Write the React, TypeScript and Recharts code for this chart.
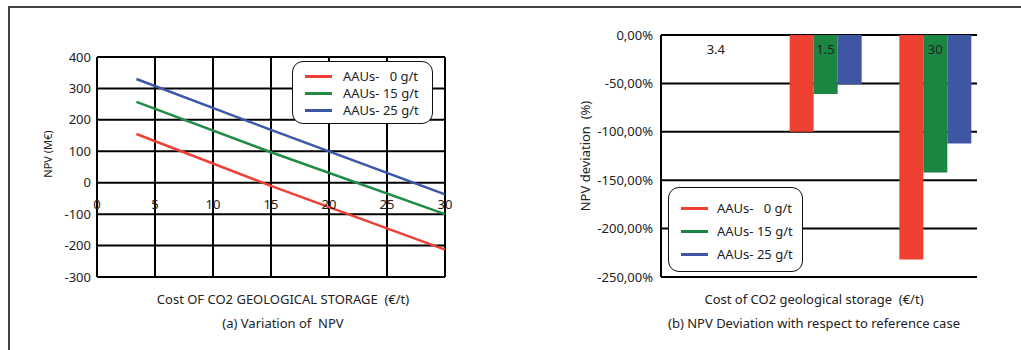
import {
  LineChart,
  Line,
  BarChart,
  Bar,
  XAxis,
  YAxis,
  CartesianGrid,
} from "recharts";

// (a) NPV vs storage cost
const costPoints = [3.4, 15, 30];
const npv0 = [155, -10, -213];
const npv15 = [257, 97, -100];
const npv25 = [330, 168, -37];
const npvTicks = [-300, -200, -100, 0, 100, 200, 300, 400];
const costTicks = [0, 5, 10, 15, 20, 25, 30];

// (b) NPV deviation vs reference case
const devCategories = ["3.4", "1.5", "30"];
const dev0 = [0, -100, -232];
const dev15 = [0, -61, -142];
const dev25 = [0, -51, -112];
const devTicks = [0, -50, -100, -150, -200, -250];

const seriesNames = ["AAUs-   0 g/t", "AAUs- 15 g/t", "AAUs- 25 g/t"];
const lineColors = ["#EE4035", "#1F8B45", "#3C57A7"];
const barColors = ["#EF4131", "#1B8641", "#3F56A4"];

const FONT = "'Noto Sans', sans-serif";
const INK = "#222";
const GRID = "#000";

const lineData = costPoints.map((c, i) => ({
  cost: c,
  a: npv0[i],
  b: npv15[i],
  c: npv25[i],
}));

const barData = devCategories.map((cat, i) => ({
  cat,
  a: dev0[i],
  b: dev15[i],
  c: dev25[i],
}));

function CostTick(props: any) {
  const { x, y, payload } = props;
  return (
    <text x={x} y={y - 79} textAnchor="middle" dominantBaseline="middle" fontSize={13} fill={INK} fontFamily={FONT}>
      {payload.value}
    </text>
  );
}

function CatTick(props: any) {
  const { x, y, payload } = props;
  return (
    <text x={x} y={y + 24} textAnchor="middle" dominantBaseline="middle" fontSize={13} fill={INK} fontFamily={FONT}>
      {payload.value}
    </text>
  );
}

function LegendBox({ left, top, width, height, rowGap, firstRow, swatchX, textX, colors }: any) {
  return (
    <div
      style={{
        position: "absolute",
        left,
        top,
        width,
        height,
        border: "1.5px solid #111",
        borderRadius: 11,
        background: "#fff",
        boxSizing: "border-box",
      }}
    >
      {seriesNames.map((name, i) => (
        <div key={name}>
          <div
            style={{
              position: "absolute",
              left: swatchX,
              top: firstRow + i * rowGap - 1.5,
              width: 27,
              height: 3,
              background: colors[i],
            }}
          />
          <div
            style={{
              position: "absolute",
              left: textX,
              top: firstRow + i * rowGap - 9,
              fontSize: 13,
              lineHeight: "18px",
              whiteSpace: "pre",
              color: INK,
              fontFamily: FONT,
            }}
          >
            {name}
          </div>
        </div>
      ))}
    </div>
  );
}

const textStyle = (left: number, top: number): any => ({
  position: "absolute",
  left,
  top,
  transform: "translate(-50%, -50%)",
  whiteSpace: "pre",
  fontSize: 13,
  color: INK,
  fontFamily: FONT,
});

const vLabel = (left: number, top: number, size: number): any => ({
  position: "absolute",
  left,
  top,
  transform: "translate(-50%, -50%) rotate(-90deg)",
  whiteSpace: "pre",
  fontSize: size,
  color: INK,
  fontFamily: FONT,
});

export default function App() {
  return (
    <div style={{ position: "absolute", left: 0, top: 0, width: 1021, height: 350, background: "#fff", overflow: "hidden" }}>
      {/* panel frame */}
      <div style={{ position: "absolute", left: 8, top: 6, width: 1013, height: 400, borderTop: "2px solid #444", borderLeft: "2px solid #444" }} />

      {/* (a) */}
      <div style={{ position: "absolute", left: 0, top: 0 }}>
        <LineChart width={460} height={320} data={lineData} margin={{ top: 57, right: 15, bottom: 13, left: 37 }}>
          <CartesianGrid stroke={GRID} strokeWidth={2} strokeOpacity={1} />
          <XAxis
            dataKey="cost"
            type="number"
            domain={[0, 30]}
            ticks={costTicks}
            height={30}
            axisLine={false}
            tickLine={false}
            tick={<CostTick />}
          />
          <YAxis
            domain={[-300, 400]}
            ticks={npvTicks}
            width={60}
            axisLine={{ stroke: GRID, strokeWidth: 2 }}
            tickLine={false}
            tickMargin={0}
            tick={{ fontSize: 13, fill: INK, fontFamily: FONT }}
          />
          <Line type="linear" dataKey="a" stroke={lineColors[0]} strokeWidth={2.5} dot={false} isAnimationActive={false} />
          <Line type="linear" dataKey="b" stroke={lineColors[1]} strokeWidth={2.5} dot={false} isAnimationActive={false} />
          <Line type="linear" dataKey="c" stroke={lineColors[2]} strokeWidth={2.5} dot={false} isAnimationActive={false} />
        </LineChart>
      </div>
      <LegendBox left={292} top={61} width={141} height={63} rowGap={17} firstRow={14} swatchX={12} textX={50} colors={lineColors} />
      <div style={vLabel(47, 154, 11)}>NPV (M€)</div>
      <div style={textStyle(283, 299)}>Cost OF CO2 GEOLOGICAL STORAGE  (€/t)</div>
      <div style={textStyle(283, 323)}>(a) Variation of  NPV</div>

      {/* (b) */}
      <div style={{ position: "absolute", left: 520, top: 0 }}>
        <BarChart width={501} height={320} data={barData} margin={{ top: 15, right: 44, bottom: 43, left: 61 }} barGap={0} barSize={24}>
          <CartesianGrid stroke={GRID} strokeWidth={2} strokeOpacity={1} vertical={false} />
          <XAxis
            dataKey="cat"
            orientation="top"
            height={20}
            padding={{ left: 0, right: -13 }}
            axisLine={false}
            tickLine={false}
            tick={<CatTick />}
          />
          <YAxis
            domain={[-250, 0]}
            ticks={devTicks}
            width={80}
            axisLine={{ stroke: GRID, strokeWidth: 2 }}
            tickLine={false}
            tickMargin={2}
            tickFormatter={(v: number) => v.toFixed(2).replace(".", ",") + "%"}
            tick={{ fontSize: 13, fill: INK, fontFamily: FONT }}
          />
          <Bar dataKey="a" fill={barColors[0]} isAnimationActive={false} />
          <Bar dataKey="b" fill={barColors[1]} isAnimationActive={false} />
          <Bar dataKey="c" fill={barColors[2]} isAnimationActive={false} />
        </BarChart>
      </div>
      <LegendBox left={668} top={187} width={135} height={85} rowGap={23} firstRow={20} swatchX={12} textX={48} colors={barColors} />
      <div style={vLabel(585, 156, 13)}>NPV deviation  (%)</div>
      <div style={textStyle(814, 299)}>Cost of CO2 geological storage  (€/t)</div>
      <div style={textStyle(814, 323)}>(b) NPV Deviation with respect to reference case</div>
    </div>
  );
}
